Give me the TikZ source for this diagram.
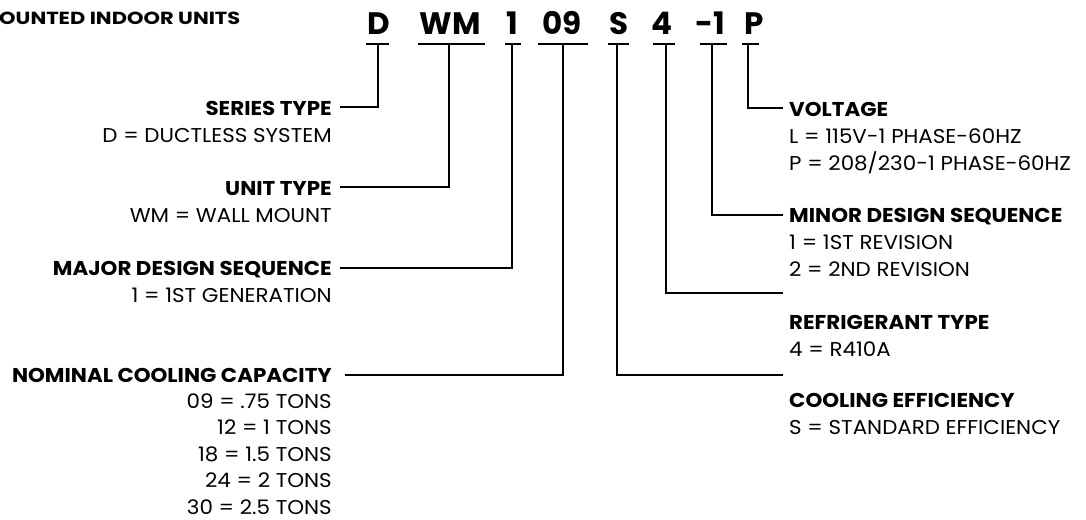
\documentclass[tikz,border=0pt]{standalone}
\usepackage{fontspec}
\setmainfont{Poppins}
\newfontfamily\lblfont{Poppins}[FakeStretch=1.07]
\newfontfamily\ttlfont{Poppins}[FakeStretch=1.2]
\begin{document}
\begin{tikzpicture}[x=1pt,y=-1pt,
  code/.style={anchor=base,inner sep=0pt,font=\fontsize{31}{31}\selectfont\bfseries},
  lblL/.style={anchor=base east,align=right,inner sep=0pt,font=\lblfont\fontsize{20}{27}\selectfont},
  lblR/.style={anchor=base west,align=left,inner sep=0pt,font=\lblfont\fontsize{20}{27}\selectfont},
  wire/.style={line width=2.8pt,line cap=butt,line join=miter},
]
\useasboundingbox (0,0) rectangle (1086,519);
\clip (0,0) rectangle (1086,519);
\node[anchor=base west,inner sep=0pt,font=\ttlfont\fontsize{17.5}{17.5}\selectfont\bfseries] (title) at (-1,25) {OUNTED INDOOR UNITS};
% code letters
\node[code] (cD)  at (378.5,35) {D};
\node[code] (cWM) at (450,35) {WM};
\node[code] (c1)  at (512,35) {1};
\node[code] (c09) at (562,35) {09};
\node[code] (cS)  at (619,35) {S};
\node[code] (c4)  at (662,35) {4};
\node[code] (cM1) at (710,35) {-1};
\node[code] (cP)  at (754,35) {P};
% vertical line origins under the bars
\coordinate (tD)  at (378,44);
\coordinate (tWM) at (449,44);
\coordinate (t1)  at (512,44);
\coordinate (t09) at (563,44);
\coordinate (tS)  at (617,44);
\coordinate (t4)  at (666,44);
\coordinate (tM1) at (712,44);
\coordinate (tP)  at (748,44);
% bars
\draw[wire] (366,44) -- (389,44);
\draw[wire] (418,44) -- (485,44);
\draw[wire] (505,44) -- (521,44);
\draw[wire] (538,44) -- (588,44);
\draw[wire] (608,44) -- (629,44);
\draw[wire] (653,44) -- (675,44);
\draw[wire] (700,44) -- (727,44);
\draw[wire] (742,44) -- (759,44);
% leg ends
\coordinate (eD)  at (340,107);
\coordinate (eWM) at (340,187);
\coordinate (e1)  at (340,268);
\coordinate (e09) at (345,375);
\coordinate (eS)  at (783,375);
\coordinate (e4)  at (783,293);
\coordinate (eM1) at (783,215);
\coordinate (eP)  at (783,108);
\draw[wire] (tD) |- (eD);
\draw[wire] (tWM) |- (eWM);
\draw[wire] (t1) |- (e1);
\draw[wire] (t09) |- (e09);
\draw[wire] (tS) |- (eS);
\draw[wire] (t4) |- (e4);
\draw[wire] (tM1) |- (eM1);
\draw[wire] (tP) |- (eP);
% labels (anchored at the baseline of their last line)
\node[lblL] (lD) at (332,142) {\textbf{SERIES TYPE}\\D = DUCTLESS SYSTEM};
\node[lblL] (lWM) at (332,222) {\textbf{UNIT TYPE}\\WM = WALL MOUNT};
\node[lblL] (l1) at (332,302) {\textbf{MAJOR DESIGN SEQUENCE}\\1 = 1ST GENERATION};
\node[lblL,font=\lblfont\fontsize{20}{26.4}\selectfont] (l09) at (332,514) {\textbf{NOMINAL COOLING CAPACITY}\\09 = .75 TONS\\12 = 1 TONS\\18 = 1.5 TONS\\24 = 2 TONS\\30 = 2.5 TONS};
\node[lblR] (lP) at (789,170) {\textbf{VOLTAGE}\\L = 115V-1 PHASE-60HZ\\P = 208/230-1 PHASE-60HZ};
\node[lblR] (lM1) at (789,276) {\textbf{MINOR DESIGN SEQUENCE}\\1 = 1ST REVISION\\2 = 2ND REVISION};
\node[lblR] (l4) at (789,356) {\textbf{REFRIGERANT TYPE}\\4 = R410A};
\node[lblR] (lS) at (789,434) {\textbf{COOLING EFFICIENCY}\\S = STANDARD EFFICIENCY};
\end{tikzpicture}
\end{document}
